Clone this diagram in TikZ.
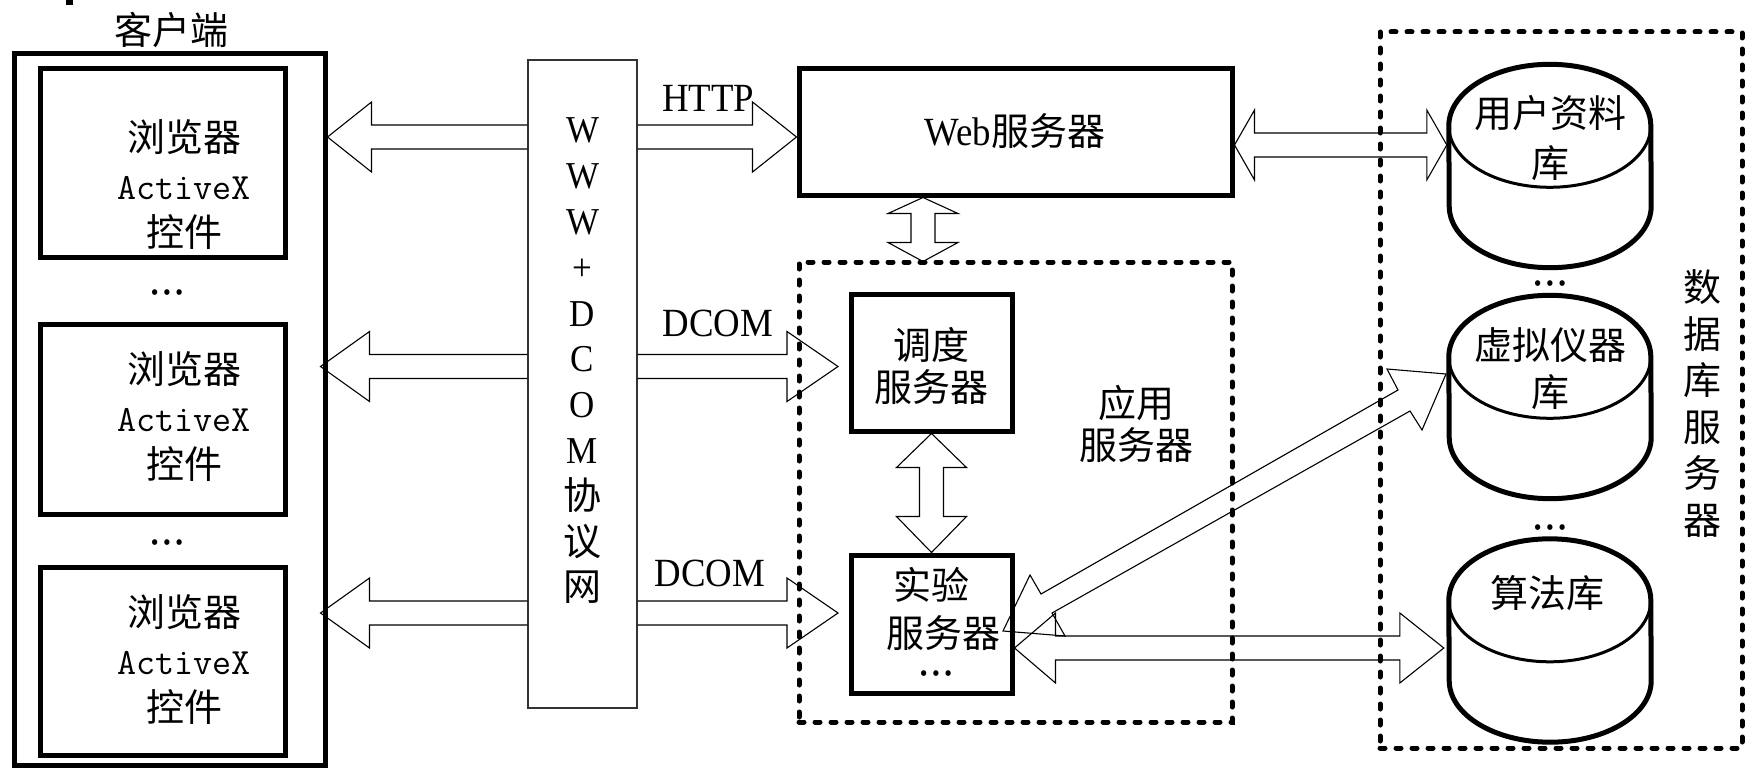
\documentclass[tikz,border=0pt]{standalone}
\usepackage{fontspec}
\setmainfont{Liberation Serif}[FakeStretch=0.92]
\newfontfamily\cjk{Noto Sans CJK SC}
\usetikzlibrary{calc}

% hollow block arrow with one head (tail -> tip)
\newcommand{\singlearrow}[3]{%
  \path (#1) coordinate (ba-t) (#2) coordinate (ba-h);
  \path ($(ba-h)!#3!(ba-t)$) coordinate (ba-x);
  \draw[blockline] ($(ba-t)!12pt!90:(ba-h)$) -- ($(ba-x)!12pt!-90:(ba-t)$)
    -- ($(ba-x)!35pt!-90:(ba-t)$) -- (ba-h) -- ($(ba-x)!35pt!90:(ba-t)$)
    -- ($(ba-x)!12pt!90:(ba-t)$) -- ($(ba-t)!12pt!-90:(ba-h)$);
}
% hollow block arrow with a head at both ends
\newcommand{\doublearrow}[4]{%
  \path (#1) coordinate (ba-a) (#2) coordinate (ba-b);
  \path ($(ba-a)!#3!(ba-b)$) coordinate (ba-xa) ($(ba-b)!#4!(ba-a)$) coordinate (ba-xb);
  \draw[blockline] (ba-a) -- ($(ba-xa)!35pt!90:(ba-b)$) -- ($(ba-xa)!12pt!90:(ba-b)$)
    -- ($(ba-xb)!12pt!-90:(ba-a)$) -- ($(ba-xb)!35pt!-90:(ba-a)$) -- (ba-b)
    -- ($(ba-xb)!35pt!90:(ba-a)$) -- ($(ba-xb)!12pt!90:(ba-a)$)
    -- ($(ba-xa)!12pt!-90:(ba-b)$) -- ($(ba-xa)!35pt!-90:(ba-b)$) -- cycle;
}
% database drum drawn round an empty node
\newcommand{\drum}[1]{%
  \draw[line width=5pt, line join=round] ($(#1.north west)+(0,61.5)$)
    arc[start angle=180, end angle=0, x radius=101pt, y radius=61.5pt]
    -- ($(#1.south east)+(0,-61.5)$)
    arc[start angle=0, end angle=-180, x radius=101pt, y radius=61.5pt] -- cycle;
  \draw[line width=3pt] ($(#1.north west)+(0,61.5)$)
    arc[start angle=180, end angle=360, x radius=101pt, y radius=61.5pt];
}
\newcommand{\bulletrow}{\textbullet\kern4.6pt\textbullet\kern4.6pt\textbullet}

\tikzset{
  thickbox/.style={draw, line width=5pt, inner sep=0pt},
  dotbox/.style={draw, line width=5pt, dash pattern=on 5pt off 11pt, line cap=round, inner sep=0pt},
  netbox/.style={draw=black!80, line width=1.3pt, inner sep=0pt},
  drumnode/.style={inner sep=0pt, minimum width=202pt, minimum height=203pt},
  blockline/.style={line width=1.1pt, line join=miter},
  cjklines/.style={inner sep=0pt, align=center, font=\cjk\fontsize{38}{#1}\selectfont},
  cjklines/.default=46,
  latinlabel/.style={inner sep=0pt, font=\rmfamily\fontsize{40}{40}\selectfont},
  dotsrow/.style={inner sep=0pt, font=\rmfamily\fontsize{24}{24}\selectfont}
}

\begin{document}
\begin{tikzpicture}[x=1pt, y=-1pt]
\useasboundingbox (0,0) rectangle (1745,768);
\fill[white] (0,0) rectangle (1745,768);
\fill (66,0) rectangle (73,5);

% ---- client side
\node[cjklines] (clientlabel) at (171,30) {客户端};
\node[thickbox, minimum width=311pt, minimum height=711pt] (client) at (169.5,409.5) {};
\node[thickbox, minimum width=244.5pt, minimum height=188pt] (cb1) at (162.75,163) {};
\node[thickbox, minimum width=244.5pt, minimum height=190pt] (cb2) at (162.75,419) {};
\node[thickbox, minimum width=244.5pt, minimum height=188pt] (cb3) at (162.75,661) {};
\node[cjklines=47.5] (ct1) at (184,185) {浏览器\\{\ttfamily\fontsize{37}{47.5}\selectfont ActiveX}\\控件};
\node[cjklines=47.5] (ct2) at (184,417) {浏览器\\{\ttfamily\fontsize{37}{47.5}\selectfont ActiveX}\\控件};
\node[cjklines=47.5] (ct3) at (184,660) {浏览器\\{\ttfamily\fontsize{37}{47.5}\selectfont ActiveX}\\控件};
\node[dotsrow] (cdots1) at (167,295) {\bulletrow};
\node[dotsrow] (cdots2) at (167,545) {\bulletrow};

% ---- network column
\node[netbox, minimum width=109pt, minimum height=648pt] (www) at (582.5,384) {};
\node[inner sep=0pt, align=center, font=\rmfamily\fontsize{38}{45.8}\selectfont] (wwwtext) at (582.5,361)
  {W\\W\\W\\+\\D\\C\\O\\M\\{\cjk 协}\\{\cjk 议}\\{\cjk 网}};

% ---- web and application servers
\node[thickbox, minimum width=433pt, minimum height=126pt] (web) at (1015.5,132) {};
\node[inner sep=0pt, font=\cjk\fontsize{38}{46}\selectfont] (webtext) at (1015,131)
  {{\rmfamily\fontsize{40}{46}\selectfont Web}服务器};
\node[dotbox, minimum width=433pt, minimum height=460pt] (app) at (1015.5,492) {};
\node[thickbox, minimum width=161pt, minimum height=137pt] (sched) at (931.5,362.5) {};
\node[thickbox, minimum width=161pt, minimum height=138pt] (exp) at (931.5,624) {};
\node[cjklines=42] (schedtext) at (931.5,366) {调度\\服务器};
\node[cjklines=48] (exptext) at (931,609) {实验\\\hspace*{24pt}服务器};
\node[dotsrow] (expdots) at (936,676) {\bulletrow};
\node[cjklines=42] (applabel) at (1136,424) {应用\\服务器};

\node[latinlabel] (http) at (708,98) {HTTP};
\node[latinlabel] (dcom1) at (718,323) {DCOM};
\node[latinlabel] (dcom2) at (710,573) {DCOM};

% ---- database server
\node[dotbox, minimum width=362pt, minimum height=716pt] (db) at (1561,390) {};
\node[drumnode] (db1) at (1550,166) {};
\node[drumnode] (db2) at (1550,397) {};
\node[drumnode] (db3) at (1550,640.5) {};
\drum{db1}
\drum{db2}
\drum{db3}
\node[cjklines=50] (db1text) at (1550,138) {用户资料\\库};
\node[cjklines=47] (db2text) at (1550,368.5) {虚拟仪器\\库};
\node[cjklines] (db3text) at (1547,593) {算法库};
\node[dotsrow] (dbdots1) at (1550,286) {\bulletrow};
\node[dotsrow] (dbdots2) at (1550,530) {\bulletrow};
\node[cjklines=46.6] (dblabel) at (1702,403.5) {数\\据\\库\\服\\务\\器};

% ---- connectors
\coordinate (lvA) at (0,137);
\coordinate (lvB) at (0,366.5);
\coordinate (lvC) at (0,613);
\coordinate (lvW) at (0,145);
\coordinate (lvD) at (0,648);
\coordinate (lvV) at (923,0);

\singlearrow{www.west |- lvA}{client.east |- lvA}{44pt}
\singlearrow{www.west |- lvB}{$(client.east |- lvB)+(-7,0)$}{49pt}
\singlearrow{www.west |- lvC}{$(client.east |- lvC)+(-7,0)$}{49pt}
\singlearrow{www.east |- lvA}{web.west |- lvA}{44pt}
\singlearrow{www.east |- lvB}{$(sched.west |- lvB)+(-10.5,0)$}{51pt}
\singlearrow{www.east |- lvC}{$(exp.west |- lvC)+(-10.5,0)$}{51pt}
\doublearrow{web.east |- lvW}{$(db1.west |- lvW)+(-2,0)$}{20pt}{20pt}
\doublearrow{web.south -| lvV}{$(app.north -| lvV)+(0,2)$}{16pt}{19pt}
\doublearrow{sched.south}{exp.north}{34pt}{36pt}
\doublearrow{exp.east |- lvD}{$(db3.west |- lvD)+(-5,0)$}{41pt}{44pt}

% slanted link between the experiment server and the instrument store
\coordinate (dgL) at (1003,631);
\coordinate (dgR) at (1446,374);
\draw[blockline] (dgL) -- (1030,575) -- (1041,594) -- (1398,390) -- (1387,369)
  -- (dgR) -- (1422,430) -- (1410,411) -- (1052,613) -- (1065,636) -- cycle;
\end{tikzpicture}
\end{document}
